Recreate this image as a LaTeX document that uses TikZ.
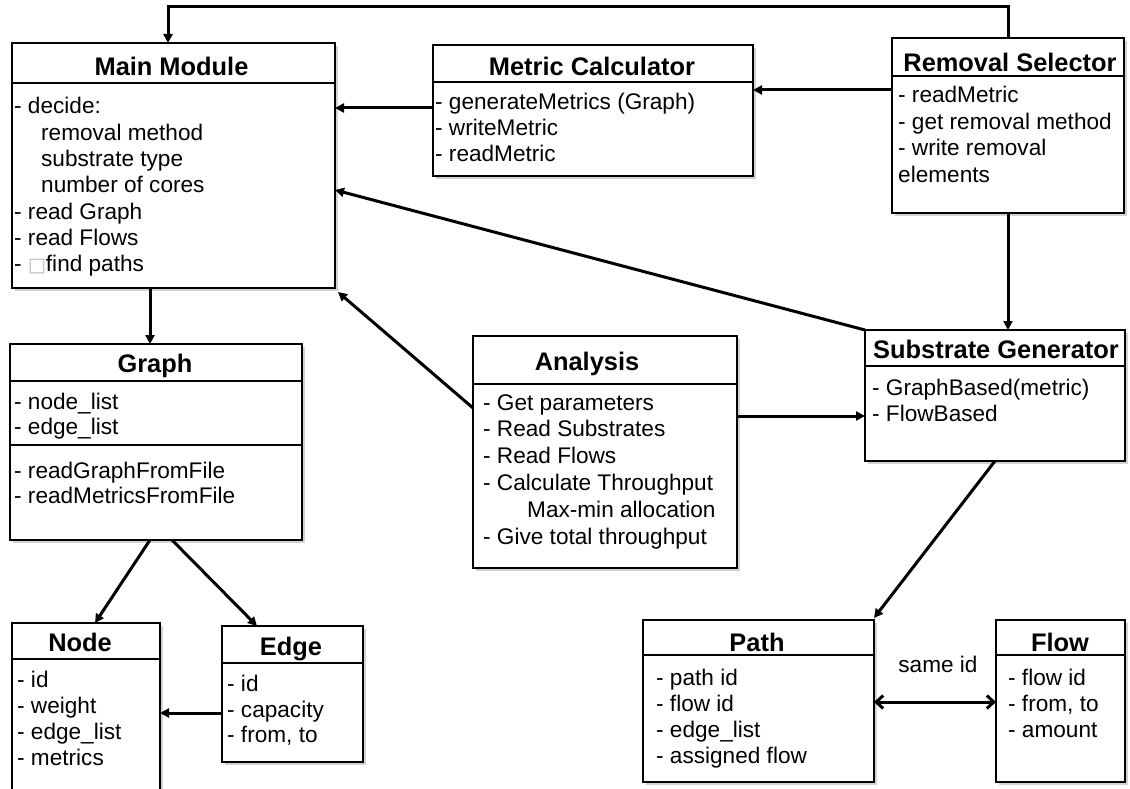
\documentclass[tikz,border=0pt]{standalone}
\usepackage{fontspec}
\setmainfont{Liberation Sans}
\newfontfamily\symfont{DejaVu Sans}
\usetikzlibrary{arrows.meta,shadows}

% class box: name, left x, top y, width, height, y of the title rule
\newcommand\umlbox[6]{%
  \node[box, minimum width=#4pt, minimum height=#5pt] (#1) at (#2,#3) {};
  \draw[rule] (#1.west |- 0,#6) -- (#1.east |- 0,#6);
}
% body lines: name prefix, x, first baseline, line step, list of lines
\newcommand\boxlines[5]{%
  \foreach \t [count=\i] in {#5}
    \node[txt] (#1-\i) at (#2,{#3+#4*(\i-1)}) {\t};
}
\newcommand\ind[1]{\hspace*{#1pt}}

\begin{document}
\begin{tikzpicture}[x=1pt,y=-1pt,
  box/.style={draw, line width=2pt, fill=white, rectangle, inner sep=0pt,
    outer sep=0pt, anchor=north west,
    drop shadow={shadow xshift=3pt, shadow yshift=-3pt, opacity=0.35}},
  rule/.style={line width=1.6pt},
  title/.style={font=\fontsize{25.4}{30}\selectfont\bfseries, anchor=base, inner sep=0pt},
  txt/.style={font=\fontsize{22.6}{26}\selectfont, anchor=base west, inner sep=0pt},
  conn/.style={line width=3pt, -{Triangle[length=9pt,width=9pt]}},
  both/.style={line width=3pt,
    {Straight Barb[length=7pt,width=13pt,line width=3pt]}-{Straight Barb[length=7pt,width=13pt,line width=3pt]}},
]
\useasboundingbox[fill=white] (0,0) rectangle (1130,789);

% ---- class boxes ----
\umlbox{main}{12}{43}{323}{245}{83}
\umlbox{metric}{433}{45}{320}{131}{82}
\umlbox{removal}{892}{38}{232}{175}{76}
\umlbox{graph}{10}{344}{292}{196}{381}
\draw[rule] (graph.west |- 0,445) -- (graph.east |- 0,445);
\umlbox{analysis}{473}{336}{264}{232}{384}
\umlbox{subgen}{865}{330}{260}{131}{366}
\umlbox{nodebox}{12}{623}{148}{177}{659}
\umlbox{edge}{222}{626}{141}{136}{663}
\umlbox{path}{643}{620}{231}{162}{655}
\umlbox{flow}{996}{620}{129}{162}{655}

% ---- titles ----
\node[title] (main-t) at (171.5,75.6) {Main Module};
\node[title] (metric-t) at (592,76) {Metric Calculator};
\node[title] (removal-t) at (1010,72) {Removal Selector};
\node[title] (graph-t) at (155,372) {Graph};
\node[title] (analysis-t) at (587,370) {Analysis};
\node[title] (subgen-t) at (996,358) {Substrate Generator};
\node[title] (nodebox-t) at (80,651) {Node};
\node[title] (edge-t) at (291,655) {Edge};
\node[title] (path-t) at (757,651) {Path};
\node[title] (flow-t) at (1060,651) {Flow};

% ---- members ----
\boxlines{main}{14}{114}{26.3}{- decide:, \ind{27}removal method, \ind{27}substrate type,
  \ind{27}number of cores, - read Graph, - read Flows,
  {- {\color{gray!55}\symfont\fontsize{19}{20}\selectfont □}find paths}}
\boxlines{metric}{435}{110}{26}{- generateMetrics (Graph), - writeMetric, - readMetric}
\boxlines{removal}{898}{103}{26.5}{- readMetric, - get removal method, - write removal, elements}
\boxlines{graph-a}{14}{409.5}{25}{- node\_list, - edge\_list}
\boxlines{graph-b}{14}{478}{25}{- readGraphFromFile, - readMetricsFromFile}
\boxlines{analysis}{483}{410}{26.8}{- Get parameters, - Read Substrates, - Read Flows,
  - Calculate Throughput, \ind{44}Max-min allocation, - Give total throughput}
\boxlines{subgen}{872}{395}{26}{- GraphBased(metric), - FlowBased}
\boxlines{nodebox}{17}{687}{26.3}{- id, - weight, - edge\_list, - metrics}
\boxlines{edge}{227}{691.5}{25.5}{- id, - capacity, {- from, to}}
\boxlines{path}{656}{685}{26.3}{- path id, - flow id, - edge\_list, - assigned flow}
\boxlines{flow}{1008}{685}{26.3}{- flow id, {- from, to}, - amount}

% ---- connectors ----
\draw[conn] (removal.north) -- ++(0,-31) -| (main.north -| 168,0);
\draw[conn] (removal.west |- 0,90) -- (metric.east |- 0,90);
\draw[conn] (metric.west |- 0,108) -- (main.east |- 0,108);
\draw[conn] (subgen.north west) -- (main.east |- 0,190);
\draw[conn] (analysis.west |- 0,408) -- ([shift={(3,4)}]main.south east);
\draw[conn] (main.south -| 150,0) -- (graph.north -| 150,0);
\draw[conn] (removal.south) -- (subgen.north -| removal.south);
\draw[conn] (analysis.east |- 0,416) -- (subgen.west |- 0,416);
\draw[conn] (subgen.south) -- ([shift={(0,-2)}]path.north east);
\draw[conn] (graph.south -| 150,0) -- (nodebox.north -| 95,0);
\draw[conn] (graph.south -| 172,0) -- (edge.north -| 257,0);
\draw[conn] (edge.west |- 0,713) -- (nodebox.east |- 0,713);
\draw[both] (path.east |- 0,702) -- (flow.west |- 0,702);
\node[txt, anchor=center] (sameid) at (938,664) {same id};
\end{tikzpicture}
\end{document}
